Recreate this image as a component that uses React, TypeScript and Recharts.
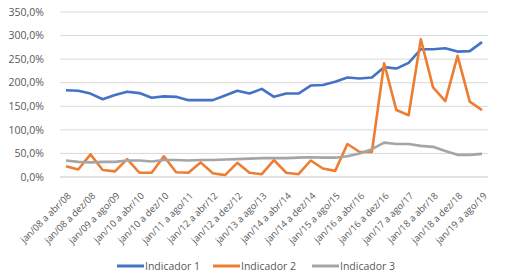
import React from "react";
import { LineChart, Line, XAxis, YAxis, CartesianGrid, Legend } from "recharts";

const periods: string[] = [];
const years = ["08", "09", "10", "11", "12", "13", "14", "15", "16", "17", "18", "19"];
const ends = ["abr", "ago", "dez"];
years.forEach((y) => {
  ends.forEach((e) => {
    if (!(y === "19" && e === "dez")) periods.push(`jan/${y} a ${e}/${y}`);
  });
});

const indicador1 = [184, 183, 177, 165, 174, 181, 178, 168, 171, 170, 163, 163, 163, 173, 183, 177, 187, 170, 177, 177, 194, 195, 202, 211, 209, 211, 233, 230, 242, 271, 271, 273, 266, 267, 286];
const indicador2 = [23, 16, 48, 15, 12, 38, 9, 9, 44, 10, 9, 31, 8, 4, 30, 9, 6, 36, 9, 6, 35, 18, 13, 70, 53, 53, 241, 142, 131, 292, 190, 161, 257, 160, 142];
const indicador3 = [35, 32, 31, 32, 32, 35, 35, 33, 36, 36, 35, 36, 36, 37, 38, 39, 40, 40, 40, 41, 42, 41, 41, 44, 50, 59, 73, 70, 70, 66, 64, 55, 47, 47, 49];

const yTicks = [0, 50, 100, 150, 200, 250, 300, 350];

const seriesNames = ["Indicador 1", "Indicador 2", "Indicador 3"];
const colors = ["#4472C4", "#ED7D31", "#A5A5A5"];

const data = periods.map((p, i) => ({
  period: p,
  s1: indicador1[i],
  s2: indicador2[i],
  s3: indicador3[i],
}));

const FONT = "'Open Sans', 'Noto Sans', sans-serif";
const TXT = "#595959";

const XTick = (props: any) => {
  const { x, y, payload } = props;
  return (
    <g transform={`translate(${x + 3},${y + 9})`}>
      <text
        transform="rotate(-45)"
        textAnchor="end"
        dominantBaseline="central"
        fontSize={9.4}
        fontFamily={FONT}
        fill={TXT}
      >
        {payload.value}
      </text>
    </g>
  );
};

const LegendContent = () => {
  const starts = [117, 213, 312];
  return (
    <svg width={512} height={20} style={{ display: "block" }}>
      {seriesNames.map((n, i) => (
        <g key={n}>
          <line x1={starts[i]} x2={starts[i] + 27} y1={10} y2={10} stroke={colors[i]} strokeWidth={3} />
          <text x={starts[i] + 28} y={10} dominantBaseline="central" fontSize={10.5} fontFamily={FONT} fill={TXT}>
            {n}
          </text>
        </g>
      ))}
    </svg>
  );
};

export default function App() {
  return (
    <div style={{ position: "absolute", left: 0, top: 0, width: 512, height: 276, background: "#fff" }}>
      <LineChart width={512} height={276} data={data} margin={{ top: 12, right: 24, bottom: 0, left: 0 }}>
        <CartesianGrid vertical={false} stroke="#D9D9D9" strokeWidth={1} />
        <XAxis
          dataKey="period"
          interval={1}
          tickLine={false}
          axisLine={{ stroke: "#D9D9D9" }}
          tick={<XTick />}
          height={79}
          padding={{ left: 6, right: 6 }}
        />
        <YAxis
          domain={[0, 350]}
          ticks={yTicks}
          width={60}
          axisLine={false}
          tickLine={false}
          tickFormatter={(v: number) => `${v.toFixed(1).replace(".", ",")}%`}
          tick={{ fontSize: 10.5, fontFamily: FONT, fill: TXT }}
          tickMargin={10}
        />
        <Legend verticalAlign="bottom" height={20} content={<LegendContent />} />
        <Line dataKey="s1" name="Indicador 1" stroke={colors[0]} strokeWidth={2.6} dot={false} isAnimationActive={false} strokeLinejoin="round" />
        <Line dataKey="s2" name="Indicador 2" stroke={colors[1]} strokeWidth={2.6} dot={false} isAnimationActive={false} strokeLinejoin="round" />
        <Line dataKey="s3" name="Indicador 3" stroke={colors[2]} strokeWidth={2.6} dot={false} isAnimationActive={false} strokeLinejoin="round" />
      </LineChart>
    </div>
  );
}
